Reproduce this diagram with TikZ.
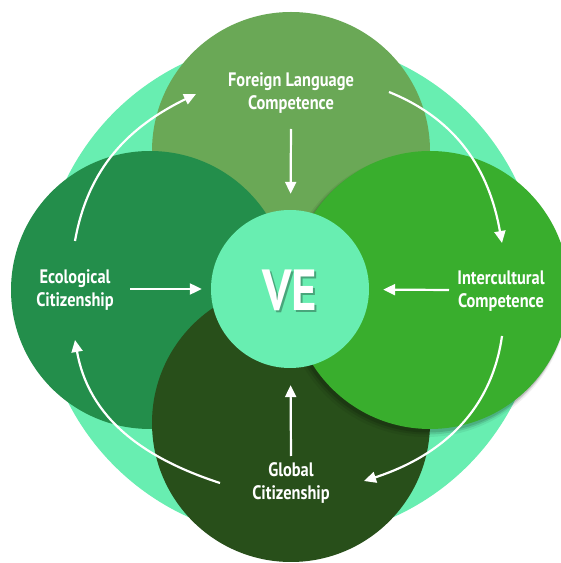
\documentclass[tikz,border=0pt]{standalone}
\usepackage{fontspec}
\newfontfamily\lblfont[FakeStretch=0.84]{PT Sans}
\usetikzlibrary{arrows.meta}
\definecolor{lightg}{RGB}{104,238,177}
\definecolor{topg}{RGB}{106,168,86}
\definecolor{leftg}{RGB}{35,142,75}
\definecolor{rightg}{RGB}{57,174,45}
\definecolor{botg}{RGB}{40,79,26}
\tikzset{
  lbl/.style={text=white, font=\lblfont\bfseries\fontsize{19.5}{23}\selectfont, align=center, inner sep=0pt},
  arr/.style={draw=white, line width=2.2pt, -{Triangle[length=12pt,width=11pt]}},
  disc/.style={circle, minimum size=278pt, inner sep=0pt}
}
\begin{document}
\begin{tikzpicture}[x=1pt,y=1pt]
\useasboundingbox (0,0) rectangle (561,563);
\clip (0,0) rectangle (561,563);
\fill[white] (0,0) rectangle (561,563);
% background disc
\node[circle, fill=lightg, minimum size=500pt, inner sep=0pt] (bg) at (291,274) {};
% four petals
\node[disc, fill=topg] (ptop) at (291,412) {};
\node[disc, fill=leftg] (pleft) at (150,273) {};
\node[disc, fill=botg] (pbot) at (291,140) {};
% soft shadow of the right disc
\fill[black, opacity=0.06] (426,268) circle (142);
\fill[black, opacity=0.10] (427,269) circle (140.5);
\fill[black, opacity=0.12] (428,270) circle (139.5);
\node[disc, fill=rightg] (pright) at (430,273) {};
% centre
\node[circle, fill=lightg, minimum size=158pt, inner sep=0pt] (ve) at (290,274) {};
\node[text=black, opacity=0.3, font=\lblfont\bfseries\fontsize{58}{58}\selectfont, inner sep=0pt] (veshadow) at (292,271) {VE};
\node[text=white, font=\lblfont\bfseries\fontsize{58}{58}\selectfont, inner sep=0pt] (vetext) at (290,273) {VE};
% labels
\node[lbl] (fl) at (291,470) {Foreign Language\\Competence};
\node[lbl] (ec) at (75,273) {Ecological\\Citizenship};
\node[lbl] (ic) at (501,272) {Intercultural\\Competence};
\node[lbl] (gc) at (291,80) {Global\\Citizenship};
% arrow end points
\coordinate (f1) at (291,434);
\coordinate (e1) at (130,274);
\coordinate (i1) at (449,273);
\coordinate (g1) at (291,107);
\draw[arr, shorten >=16pt] (f1) -- (ve);
\draw[arr, shorten >=9pt] (e1) -- (ve);
\draw[arr, shorten >=14pt] (i1) -- (ve);
\draw[arr, shorten >=17pt] (g1) -- (ve);
% circular arrows
\coordinate (a1s) at (75,322);
\coordinate (a1e) at (196,469);
\coordinate (a2s) at (389,471);
\coordinate (a2e) at (502,320);
\coordinate (a3s) at (502,227);
\coordinate (a3e) at (364,82);
\coordinate (a4s) at (220,80);
\coordinate (a4e) at (75,223);
\draw[arr] (a1s) to[out=80, in=206] (a1e);
\draw[arr] (a2s) to[out=-22, in=100] (a2e);
\draw[arr] (a3s) to[out=-98, in=18] (a3e);
\draw[arr] (a4s) to[out=162, in=-80] (a4e);
\end{tikzpicture}
\end{document}
